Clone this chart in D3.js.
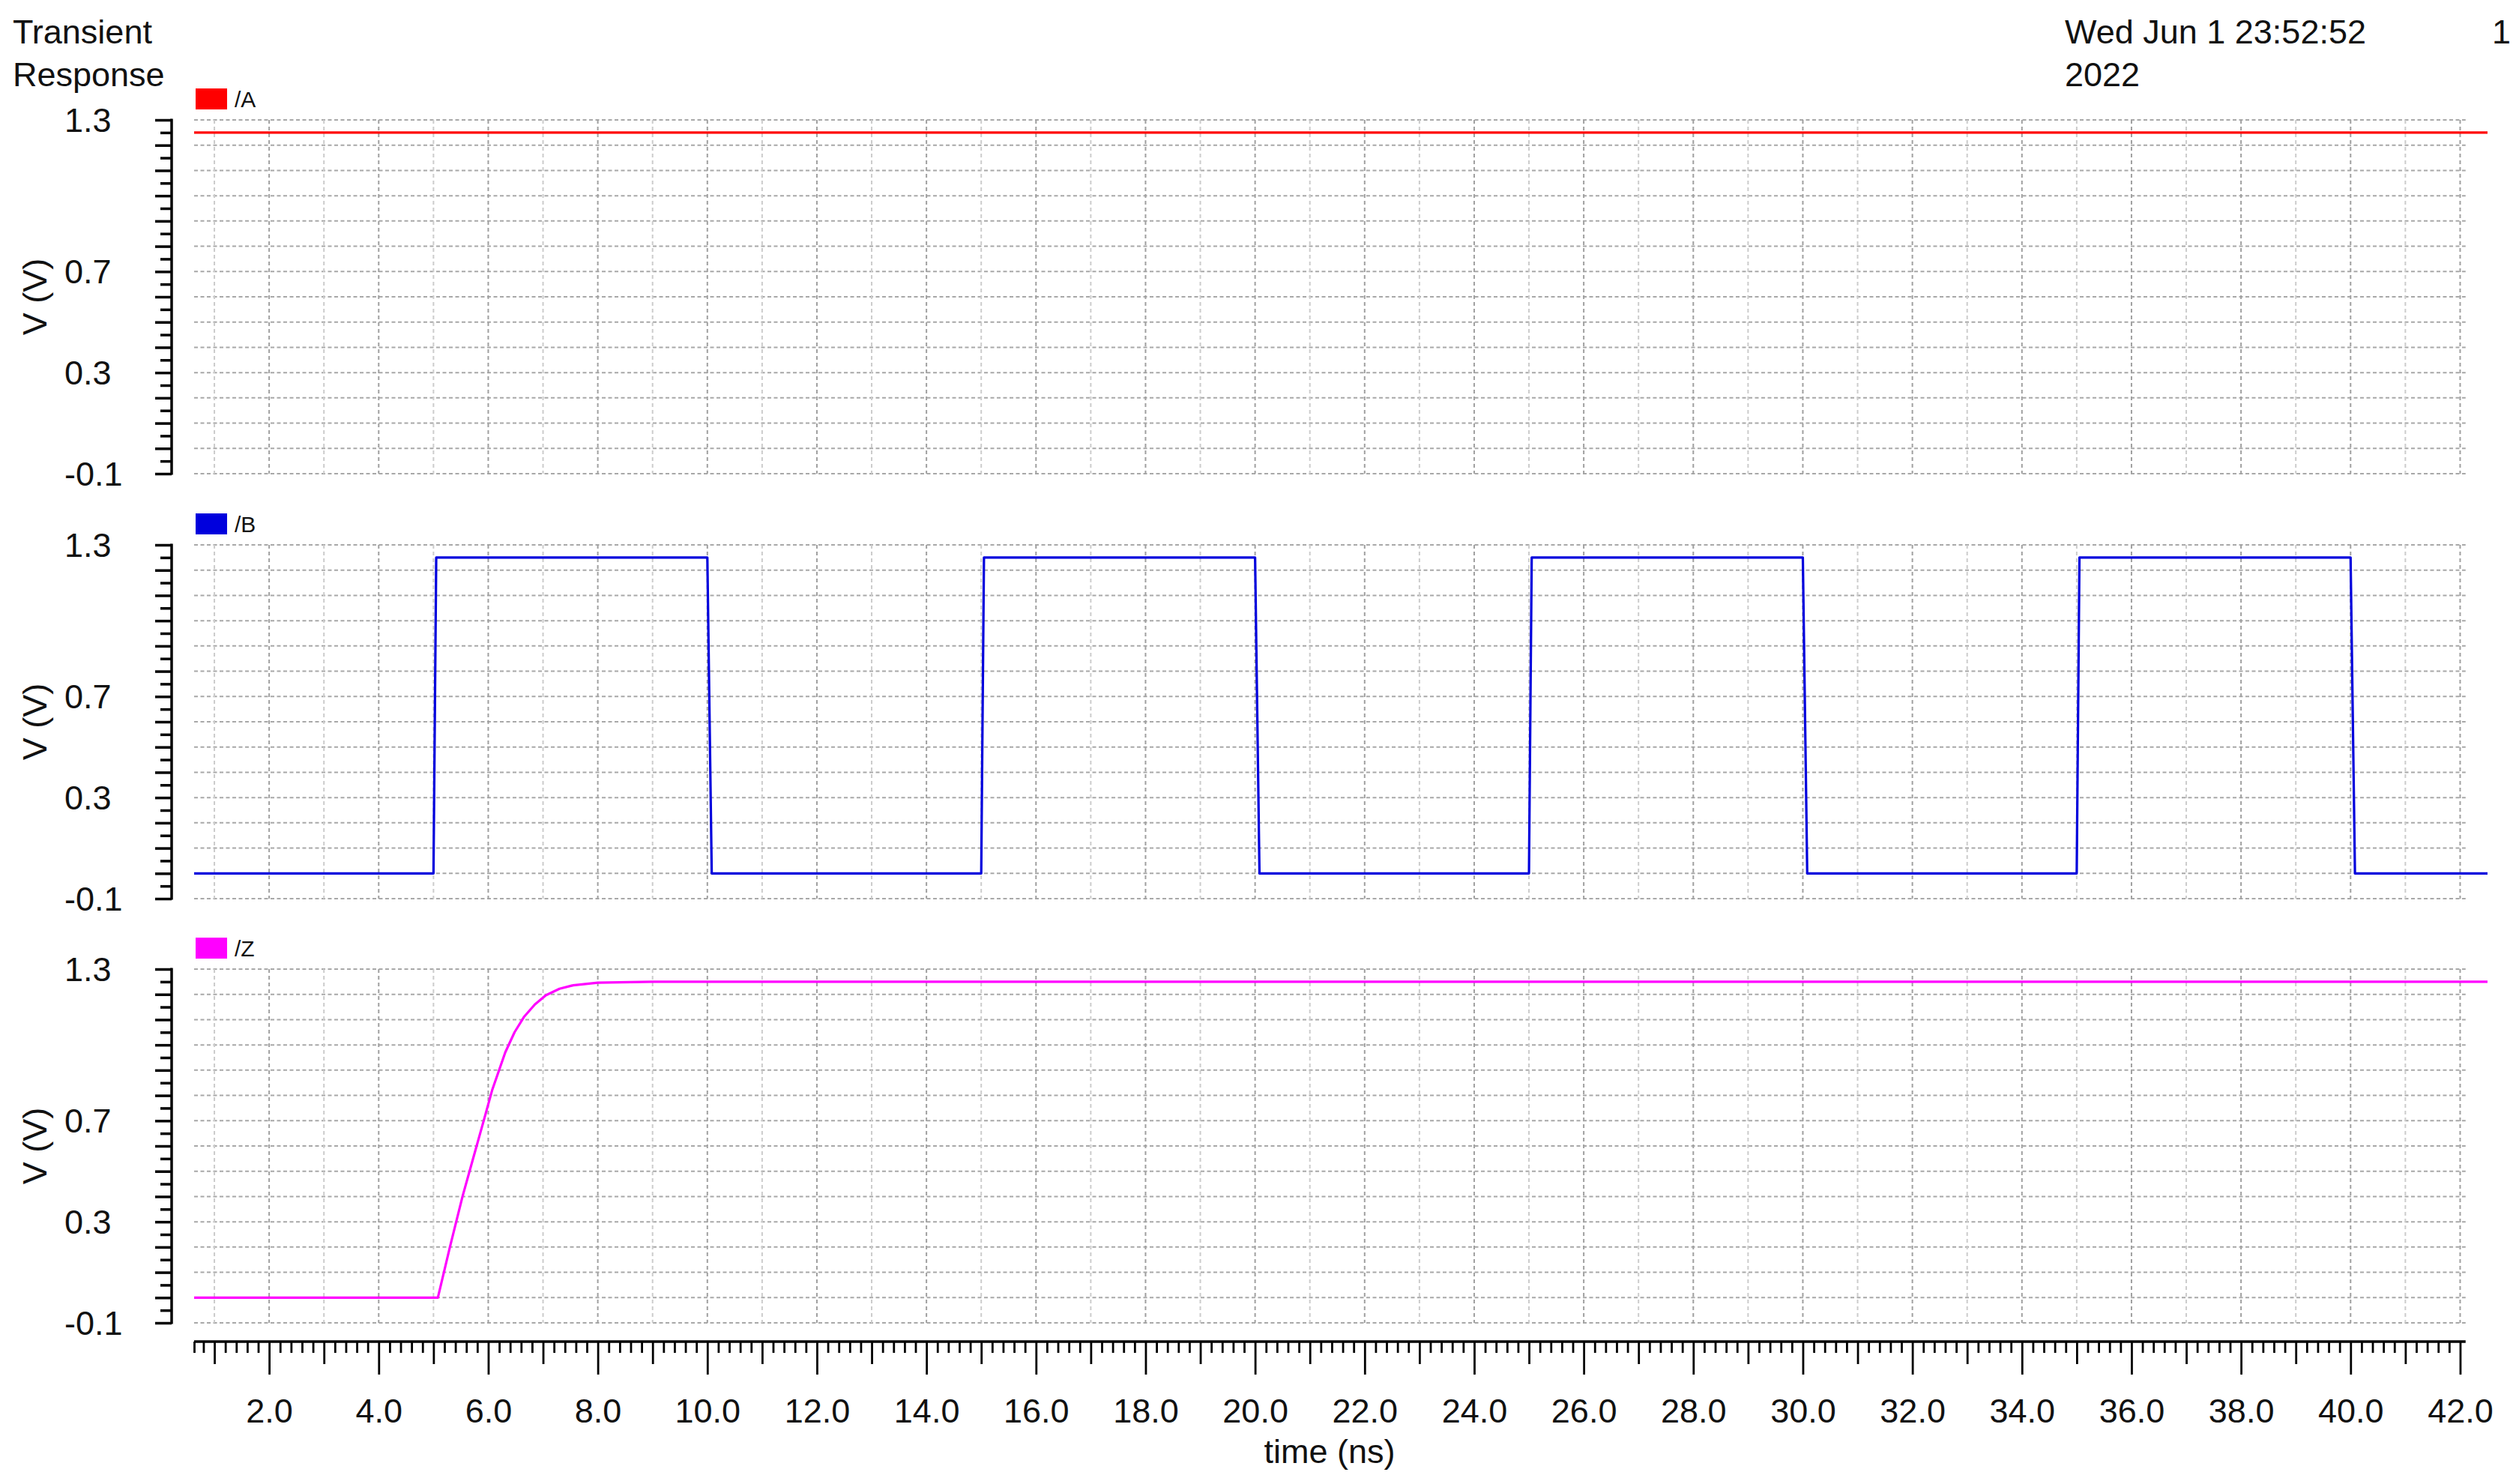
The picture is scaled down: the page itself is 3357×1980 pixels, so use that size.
<!DOCTYPE html>
<html>
<head>
<meta charset="utf-8">
<script src="https://cdn.jsdelivr.net/npm/d3@7"></script>
<style>
  body { margin: 0; background: #fff; }
  text { font-family: "Liberation Sans", Arial, sans-serif; fill: #111; }
</style>
</head>
<body>
<svg id="chart" width="3357" height="1980"></svg>
<script>
// time range shown (ns)
var xStart = 0.63, xEnd = 42.5, xAxisEnd = 42.1;

// signals: [time ns, volts]
var sigA = [[0.63, 1.25], [42.5, 1.25]];
var sigB = [
  [0.63, 0], [5.0, 0], [5.05, 1.25], [10.0, 1.25], [10.08, 0],
  [15.0, 0], [15.05, 1.25], [20.0, 1.25], [20.08, 0],
  [25.0, 0], [25.05, 1.25], [30.0, 1.25], [30.08, 0],
  [35.0, 0], [35.05, 1.25], [40.0, 1.25], [40.08, 0], [42.5, 0]
];
var sigZ = [
  [0.63, 0], [5.08, 0], [5.3, 0.2], [5.53, 0.4], [5.71, 0.54], [5.93, 0.71],
  [6.07, 0.82], [6.31, 0.97], [6.48, 1.05], [6.65, 1.11], [6.85, 1.16],
  [7.05, 1.196], [7.3, 1.222], [7.55, 1.236], [8.0, 1.246], [9.0, 1.25], [42.5, 1.25]
];

var panelNames = ["/A", "/B", "/Z"];
var panelColors = ["#ff0000", "#0000dd", "#ff00ff"];
var panelData = [sigA, sigB, sigZ];

var yDomain = [-0.1, 1.3];
var yTickLabels = [1.3, 0.7, 0.3, -0.1];
var xTickLabels = [2, 4, 6, 8, 10, 12, 14, 16, 18, 20, 22, 24, 26, 28, 30, 32, 34, 36, 38, 40, 42];

// plain hyphen instead of the unicode minus d3.format gives
var fmt = function (d) { return d3.format(".1f")(d).replace("\u2212", "-"); };

var svg = d3.select("#chart");
svg.append("rect").attr("width", 3357).attr("height", 1980).attr("fill", "#fff");

var x = d3.scaleLinear().domain([xStart, xEnd]).range([259, 3319]);
var xGridEnd = x(xAxisEnd);

// header text
svg.append("text").attr("x", 17).attr("y", 58).attr("font-size", 45).text("Transient");
svg.append("text").attr("x", 17).attr("y", 115).attr("font-size", 45).text("Response");
svg.append("text").attr("x", 2755).attr("y", 58).attr("font-size", 45).text("Wed Jun 1 23:52:52");
svg.append("text").attr("x", 2755).attr("y", 115).attr("font-size", 45).text("2022");
svg.append("text").attr("x", 3325).attr("y", 58).attr("font-size", 45).text("1");

var panelTops = [160, 727, 1293];
var panelH = 472;

var minorY = d3.range(0, 29).map(function (i) { return +(yDomain[0] + i * 0.05).toFixed(2); });
var gridY = minorY.filter(function (d, i) { return i % 2 === 0; });
var gridX = d3.range(1, 43);

var line = d3.line();

panelData.forEach(function (data, p) {
  var top = panelTops[p], bottom = top + panelH;
  var y = d3.scaleLinear().domain(yDomain).range([bottom, top]);
  var g = svg.append("g");

  // grid
  g.selectAll("line.hgrid").data(gridY).enter().append("line")
    .attr("class", "hgrid")
    .attr("x1", x(xStart)).attr("x2", xGridEnd)
    .attr("y1", function (d) { return y(d); }).attr("y2", function (d) { return y(d); })
    .attr("stroke", "#a8a8a8").attr("stroke-width", 2).attr("stroke-dasharray", "5,3.5");

  g.selectAll("line.vgrid").data(gridX).enter().append("line")
    .attr("class", "vgrid")
    .attr("x1", function (d) { return x(d); }).attr("x2", function (d) { return x(d); })
    .attr("y1", top).attr("y2", bottom)
    .attr("stroke", function (d) { return d % 2 === 0 ? "#a0a0a0" : "#cccccc"; })
    .attr("stroke-width", 2).attr("stroke-dasharray", "5,4");

  // y axis: long ticks every 0.1, short every 0.05
  var yAxis = d3.axisLeft(y).tickValues(minorY).tickFormat("")
    .tickSize(16).tickSizeOuter(0);
  var ya = g.append("g").attr("transform", "translate(229,0)").call(yAxis);
  ya.select(".domain").attr("stroke", "#000").attr("stroke-width", 3.5)
    .attr("d", "M0," + (top - 1.5) + "V" + (bottom + 1.5));
  ya.selectAll(".tick line").attr("stroke", "#000").attr("stroke-width", 3.5)
    .attr("x2", function (d, i) { return i % 2 === 0 ? -22 : -15; });

  g.selectAll("text.ylab").data(yTickLabels).enter().append("text")
    .attr("class", "ylab")
    .attr("x", 86).attr("y", function (d) { return y(d); })
    .attr("dy", "0.36em").attr("font-size", 45)
    .text(fmt);

  g.append("text")
    .attr("transform", "translate(62," + (top + panelH / 2) + ") rotate(-90)")
    .attr("text-anchor", "middle").attr("font-size", 45)
    .text("V (V)");

  // legend
  g.append("rect").attr("x", 261).attr("y", top - 42).attr("width", 42).attr("height", 28)
    .attr("fill", panelColors[p]);
  g.append("text").attr("x", 313).attr("y", top - 17).attr("font-size", 30)
    .text(panelNames[p]);

  // waveform
  g.append("path").datum(data)
    .attr("d", line.x(function (d) { return x(d[0]); }).y(function (d) { return y(d[1]); }))
    .attr("fill", "none").attr("stroke", panelColors[p]).attr("stroke-width", 3.2)
    .attr("stroke-linejoin", "round");
});

// x axis
var axisY = 1790;
var minorX = d3.range(4, 211).map(function (i) { return +(i * 0.2).toFixed(1); })
  .filter(function (d) { return Math.abs(d - Math.round(d)) > 0.01; });
var oddX = d3.range(1, 42, 2);

var xg = svg.append("g").attr("transform", "translate(0," + axisY + ")");
xg.append("line").attr("x1", x(xStart)).attr("x2", xGridEnd)
  .attr("y1", 0).attr("y2", 0).attr("stroke", "#000").attr("stroke-width", 3.5);

function tickGroup(vals, len) {
  var a = d3.axisBottom(x).tickValues(vals).tickSize(len).tickFormat("");
  var t = xg.append("g").call(a);
  t.select(".domain").remove();
  t.selectAll(".tick line").attr("stroke", "#000").attr("stroke-width", 2.8);
  return t;
}
tickGroup(minorX.concat([xStart]), 15);
tickGroup(oddX, 30);
var major = d3.axisBottom(x).tickValues(xTickLabels).tickSize(44).tickPadding(32)
  .tickFormat(fmt);
var mg = xg.append("g").call(major);
mg.select(".domain").remove();
mg.selectAll(".tick line").attr("stroke", "#000").attr("stroke-width", 2.8);
mg.selectAll(".tick text").attr("font-size", 45).attr("fill", "#111")
  .attr("font-family", "Liberation Sans, Arial, sans-serif");

svg.append("text").attr("x", 1774).attr("y", 1952).attr("text-anchor", "middle")
  .attr("font-size", 45).text("time (ns)");
</script>
</body>
</html>
